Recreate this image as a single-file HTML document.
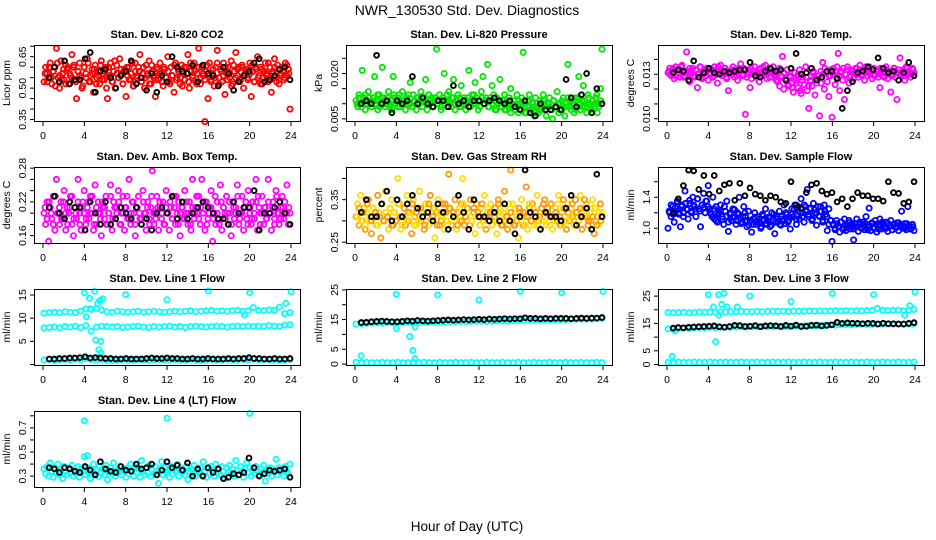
<!DOCTYPE html>
<html><head><meta charset="utf-8"><style>
html,body{margin:0;padding:0;background:#fff;}
svg{display:block;font-family:"Liberation Sans",sans-serif;}
</style></head><body>
<svg id="chart" width="936" height="540" viewBox="0 0 936 540" xmlns="http://www.w3.org/2000/svg">
<rect x="0" y="0" width="936" height="540" fill="#fff"/>
<text x="467" y="15" font-size="14" text-anchor="middle">NWR_130530  Std. Dev. Diagnostics</text>
<text x="467" y="531" font-size="13.5" text-anchor="middle">Hour of Day (UTC)</text>
</svg>
<script>
// ---------- data ----------
const xTicks = [0,4,8,12,16,20,24];

const co2Color = [0.53,0.6,0.57,0.55,0.62,0.52,0.58,0.6,0.69,0.55,0.5,0.63,0.57,0.54,0.61,0.59,0.52,0.56,0.66,0.6,
0.54,0.45,0.58,0.62,0.55,0.51,0.6,0.57,0.64,0.53,0.56,0.59,0.48,0.61,0.55,0.58,0.52,0.63,0.57,0.54,
0.6,0.45,0.56,0.62,0.53,0.58,0.5,0.61,0.55,0.64,0.57,0.52,0.59,0.46,0.56,0.6,0.54,0.62,0.51,0.58,
0.55,0.6,0.66,0.53,0.57,0.5,0.61,0.56,0.63,0.52,0.58,0.55,0.46,0.6,0.54,0.62,0.57,0.51,0.59,0.55,
0.65,0.53,0.6,0.56,0.48,0.62,0.55,0.58,0.52,0.61,0.57,0.54,0.6,0.66,0.5,0.58,0.55,0.62,0.53,0.57,
0.69,0.52,0.6,0.56,0.34,0.58,0.45,0.62,0.54,0.57,0.51,0.6,0.68,0.55,0.59,0.53,0.62,0.47,0.57,0.6,
0.55,0.63,0.52,0.58,0.67,0.56,0.6,0.54,0.61,0.5,0.57,0.59,0.55,0.62,0.46,0.58,0.53,0.6,0.65,0.56,
0.52,0.59,0.55,0.62,0.57,0.53,0.6,0.48,0.58,0.64,0.55,0.61,0.52,0.57,0.6,0.54,0.62,0.56,0.59,0.4];
const co2Color2 = [0.57,0.53,0.6,0.55,0.58,0.51,0.62,0.56,0.54,0.59,0.52,0.6,0.57,0.55,0.61,0.53,0.58,0.56,0.5,0.6,
0.55,0.62,0.53,0.57,0.59,0.52,0.56,0.61,0.54,0.58,0.5,0.6,0.56,0.53,0.63,0.57,0.55,0.59,0.52,0.58,
0.6,0.54,0.57,0.51,0.62,0.56,0.58,0.53,0.6,0.55,0.57,0.52,0.61,0.56,0.54,0.59,0.57,0.53,0.6,0.55,
0.58,0.52,0.56,0.61,0.54,0.59,0.55,0.51,0.6,0.57,0.53,0.62,0.56,0.58,0.52,0.6,0.55,0.57,0.54,0.61,
0.56,0.53,0.59,0.55,0.62,0.52,0.58,0.56,0.6,0.54,0.57,0.51,0.61,0.55,0.59,0.53,0.6,0.56,0.58,0.54,
0.57,0.61,0.53,0.59,0.55,0.6,0.52,0.58,0.56,0.62,0.54,0.57,0.6,0.53,0.59,0.56,0.58,0.55,0.61,0.57];
const co2Black = [0.55,0.6,0.53,0.63,0.52,0.54,0.54,0.64,0.67,0.48,0.58,0.59,0.55,0.5,0.56,0.58,0.63,0.52,0.55,0.49,0.57,0.48,0.56,0.53,0.65,0.6,0.58,0.57,0.61,0.53,0.61,0.57,0.56,0.51,0.6,0.57,0.49,0.53,0.56,0.58,0.62,0.64,0.53,0.54,0.56,0.59,0.6,0.54];

const presColor = [0.011,0.009,0.013,0.01,0.021,0.012,0.008,0.011,0.014,0.01,0.009,0.012,0.019,0.011,0.008,0.013,0.01,0.022,0.012,0.009,
0.011,0.014,0.01,0.008,0.019,0.012,0.011,0.009,0.013,0.01,0.014,0.011,0.008,0.012,0.01,0.017,0.009,0.013,0.011,0.008,
0.012,0.01,0.014,0.009,0.011,0.018,0.008,0.013,0.01,0.012,0.009,0.011,0.028,0.01,0.013,0.008,0.012,0.02,0.011,0.009,
0.014,0.01,0.012,0.018,0.008,0.011,0.013,0.009,0.016,0.01,0.012,0.008,0.011,0.021,0.009,0.013,0.01,0.017,0.012,0.008,
0.011,0.014,0.019,0.01,0.012,0.023,0.009,0.011,0.016,0.013,0.008,0.012,0.01,0.018,0.009,0.011,0.013,0.008,0.01,0.012,
0.015,0.009,0.011,0.008,0.013,0.007,0.01,0.012,0.027,0.009,0.007,0.011,0.013,0.008,0.01,0.006,0.012,0.009,0.007,0.011,
0.008,0.013,0.01,0.006,0.009,0.012,0.008,0.005,0.011,0.009,0.014,0.007,0.01,0.008,0.012,0.006,0.009,0.023,0.011,0.008,
0.01,0.007,0.012,0.009,0.019,0.008,0.011,0.016,0.009,0.007,0.013,0.01,0.008,0.011,0.009,0.012,0.007,0.01,0.015,0.028];
const presColor2 = [0.01,0.012,0.009,0.011,0.013,0.01,0.012,0.009,0.011,0.01,0.013,0.009,0.012,0.011,0.01,0.012,0.009,0.011,0.013,0.01,
0.012,0.009,0.011,0.01,0.012,0.013,0.01,0.009,0.011,0.012,0.01,0.011,0.009,0.012,0.01,0.013,0.011,0.009,0.012,0.01,
0.011,0.009,0.012,0.01,0.013,0.011,0.009,0.012,0.01,0.011,0.012,0.009,0.011,0.01,0.012,0.009,0.011,0.013,0.01,0.011,
0.009,0.012,0.01,0.011,0.009,0.012,0.01,0.011,0.008,0.01,0.009,0.011,0.008,0.01,0.009,0.007,0.01,0.008,0.009,0.011,
0.008,0.01,0.007,0.009,0.011,0.008,0.009,0.007,0.01,0.008,0.009,0.011,0.008,0.01,0.009,0.008,0.011,0.009,0.01,0.008,
0.011,0.009,0.01,0.012,0.009,0.011,0.01,0.008,0.012,0.01,0.009,0.011,0.01,0.012,0.009,0.011,0.01,0.013,0.009,0.011];
const presBlack = [0.01,0.011,0.01,0.026,0.01,0.011,0.007,0.011,0.01,0.011,0.019,0.01,0.012,0.01,0.009,0.011,0.011,0.009,0.016,0.01,0.011,0.009,0.011,0.011,0.01,0.011,0.012,0.011,0.01,0.011,0.009,0.008,0.011,0.007,0.006,0.01,0.008,0.008,0.009,0.008,0.018,0.012,0.009,0.013,0.02,0.007,0.015,0.01];

const tempColor = [0.0131,0.0134,0.0129,0.0132,0.0127,0.0135,0.013,0.0133,0.0128,0.0136,0.0131,0.0129,0.0145,0.0132,0.0125,0.013,0.0134,0.0128,0.0133,0.0121,
0.013,0.0135,0.0127,0.0132,0.0129,0.0134,0.0126,0.0131,0.0133,0.0128,0.0135,0.013,0.0124,0.0132,0.0136,0.0129,0.0131,0.0134,0.0127,0.0119,
0.0132,0.013,0.0135,0.0128,0.0133,0.0126,0.0131,0.0137,0.0129,0.0134,0.0103,0.013,0.0133,0.0121,0.0127,0.0132,0.0135,0.0128,0.0131,0.0125,
0.0134,0.0129,0.0132,0.0136,0.0127,0.0131,0.0133,0.0128,0.0135,0.013,0.0126,0.0132,0.0134,0.0129,0.0142,0.0131,0.0127,0.0133,0.0122,0.0128,
0.0124,0.0118,0.0131,0.0126,0.0121,0.0133,0.0117,0.0128,0.0123,0.0135,0.0119,0.0107,0.0126,0.0122,0.0132,0.0116,0.0127,0.0129,0.0102,0.0124,
0.0138,0.012,0.0131,0.0125,0.0115,0.0129,0.0101,0.0134,0.0123,0.0128,0.0144,0.0119,0.0132,0.0126,0.0113,0.013,0.0135,0.0124,0.0129,0.0133,
0.0127,0.0131,0.0134,0.0128,0.0136,0.013,0.0132,0.0126,0.0133,0.0129,0.0135,0.0131,0.0127,0.0134,0.013,0.0132,0.0128,0.0121,0.0133,0.0129,
0.0131,0.0135,0.0127,0.0132,0.0118,0.013,0.0134,0.0128,0.0113,0.0131,0.0141,0.0129,0.0133,0.0126,0.0135,0.013,0.0132,0.0128,0.0134,0.0131];
const tempColor2 = [0.0132,0.013,0.0134,0.0129,0.0133,0.0131,0.0135,0.0128,0.0132,0.013,0.0134,0.0131,0.0129,0.0133,0.013,0.0135,0.0128,0.0132,0.0131,0.0134,
0.013,0.0133,0.0129,0.0132,0.0135,0.013,0.0131,0.0134,0.0128,0.0132,0.013,0.0133,0.0131,0.0129,0.0134,0.0132,0.013,0.0133,0.0128,0.0131,
0.0134,0.013,0.0132,0.0129,0.0133,0.0131,0.0135,0.013,0.0132,0.0128,0.0133,0.0131,0.0129,0.0125,0.0122,0.0128,0.012,0.0126,0.0123,0.0129,
0.0121,0.0127,0.0124,0.013,0.0119,0.0126,0.0123,0.0128,0.0122,0.0125,0.0131,0.0127,0.0124,0.0129,0.0132,0.013,0.0134,0.0131,0.0129,0.0133,
0.013,0.0132,0.0135,0.0129,0.0131,0.0134,0.013,0.0133,0.0128,0.0132,0.0131,0.0134,0.013,0.0133,0.0129,0.0132,0.0135,0.0131,0.013,0.0133,
0.0129,0.0132,0.013,0.0134,0.0131,0.0128,0.0133,0.013,0.0132,0.0129,0.0134,0.0131,0.0133,0.013,0.0132,0.0129,0.0134,0.0131,0.013,0.0133];
const tempBlack = [0.0131,0.0133,0.0132,0.0126,0.0139,0.0128,0.0131,0.0134,0.0131,0.013,0.0132,0.0131,0.0132,0.0133,0.0133,0.0138,0.0129,0.0128,0.0132,0.0134,0.0132,0.0133,0.0126,0.0134,0.0144,0.013,0.0131,0.0134,0.0126,0.0128,0.0132,0.0132,0.0127,0.0107,0.0119,0.0125,0.0131,0.0132,0.0135,0.0133,0.0141,0.0134,0.0131,0.0132,0.0126,0.0131,0.0138,0.0129];

const ambColor = [0.2,0.18,0.22,0.15,0.21,0.19,0.23,0.17,0.26,0.2,0.18,0.22,0.19,0.24,0.17,0.21,0.2,0.23,0.18,0.16,
0.21,0.19,0.26,0.2,0.17,0.22,0.24,0.18,0.21,0.19,0.23,0.2,0.17,0.25,0.18,0.22,0.2,0.16,0.21,0.19,
0.23,0.18,0.2,0.25,0.17,0.22,0.19,0.21,0.24,0.18,0.2,0.23,0.17,0.21,0.19,0.26,0.18,0.22,0.2,0.16,
0.21,0.23,0.19,0.18,0.24,0.2,0.17,0.22,0.19,0.21,0.275,0.18,0.2,0.23,0.17,0.21,0.19,0.22,0.18,0.24,
0.2,0.17,0.21,0.19,0.23,0.18,0.2,0.22,0.16,0.21,0.19,0.24,0.2,0.18,0.22,0.17,0.26,0.19,0.21,0.2,
0.23,0.18,0.26,0.2,0.17,0.22,0.19,0.21,0.24,0.15,0.2,0.18,0.22,0.19,0.25,0.17,0.21,0.2,0.23,0.18,
0.2,0.16,0.22,0.19,0.21,0.25,0.18,0.2,0.23,0.17,0.21,0.19,0.24,0.2,0.18,0.22,0.19,0.26,0.17,0.21,
0.2,0.23,0.18,0.21,0.19,0.26,0.2,0.17,0.22,0.19,0.24,0.2,0.18,0.21,0.23,0.19,0.2,0.25,0.18,0.2];
const ambColor2 = [0.21,0.19,0.22,0.2,0.18,0.23,0.2,0.21,0.19,0.22,0.2,0.18,0.21,0.23,0.19,0.2,0.22,0.18,0.21,0.2,
0.19,0.22,0.2,0.23,0.18,0.21,0.2,0.19,0.22,0.21,0.18,0.2,0.23,0.19,0.21,0.2,0.22,0.18,0.2,0.21,
0.23,0.19,0.2,0.22,0.18,0.21,0.2,0.19,0.22,0.2,0.21,0.18,0.23,0.2,0.19,0.21,0.22,0.2,0.18,0.21,
0.2,0.22,0.19,0.21,0.23,0.18,0.2,0.21,0.19,0.22,0.2,0.18,0.21,0.2,0.23,0.19,0.21,0.2,0.22,0.18,
0.2,0.21,0.19,0.23,0.2,0.18,0.22,0.21,0.19,0.2,0.22,0.18,0.21,0.2,0.23,0.19,0.2,0.21,0.22,0.18,
0.21,0.19,0.2,0.22,0.23,0.18,0.2,0.21,0.19,0.22,0.2,0.21,0.18,0.23,0.2,0.19,0.21,0.22,0.2,0.21];
const ambBlack = [0.21,0.23,0.2,0.19,0.22,0.21,0.21,0.17,0.22,0.2,0.18,0.22,0.18,0.19,0.21,0.2,0.19,0.21,0.18,0.19,0.17,0.2,0.21,0.2,0.23,0.19,0.22,0.19,0.2,0.21,0.22,0.21,0.2,0.19,0.19,0.18,0.22,0.2,0.21,0.21,0.24,0.17,0.2,0.2,0.21,0.22,0.2,0.18];

const rhColor = [0.31,0.34,0.29,0.36,0.3,0.33,0.28,0.32,0.35,0.3,0.27,0.33,0.31,0.29,0.36,0.32,0.26,0.34,0.3,0.37,
0.31,0.28,0.33,0.35,0.29,0.32,0.3,0.4,0.34,0.28,0.31,0.33,0.29,0.36,0.3,0.32,0.27,0.35,0.31,0.29,
0.33,0.37,0.3,0.32,0.28,0.34,0.31,0.29,0.36,0.3,0.33,0.26,0.32,0.35,0.29,0.31,0.34,0.28,0.32,0.3,
0.41,0.33,0.29,0.31,0.35,0.28,0.32,0.3,0.34,0.4,0.29,0.31,0.33,0.28,0.35,0.3,0.32,0.27,0.34,0.31,
0.29,0.33,0.3,0.36,0.28,0.32,0.31,0.34,0.29,0.3,0.33,0.27,0.35,0.31,0.29,0.32,0.37,0.3,0.28,0.34,
0.42,0.31,0.29,0.33,0.3,0.26,0.32,0.35,0.29,0.31,0.38,0.28,0.33,0.3,0.34,0.29,0.32,0.36,0.3,0.28,
0.33,0.31,0.35,0.29,0.32,0.3,0.34,0.28,0.31,0.33,0.3,0.36,0.29,0.32,0.35,0.31,0.28,0.34,0.3,0.33,
0.31,0.29,0.35,0.32,0.3,0.36,0.28,0.33,0.31,0.34,0.29,0.32,0.3,0.35,0.27,0.33,0.31,0.29,0.34,0.32];
const rhColor2 = [0.31,0.33,0.3,0.32,0.29,0.34,0.31,0.3,0.33,0.32,0.29,0.31,0.34,0.3,0.32,0.31,0.33,0.29,0.32,0.3,
0.34,0.31,0.29,0.33,0.3,0.32,0.31,0.34,0.29,0.32,0.3,0.33,0.31,0.29,0.32,0.34,0.3,0.31,0.33,0.29,
0.32,0.3,0.31,0.34,0.29,0.33,0.3,0.32,0.31,0.29,0.33,0.3,0.34,0.31,0.32,0.29,0.3,0.33,0.31,0.32,
0.29,0.34,0.3,0.31,0.33,0.32,0.29,0.31,0.3,0.34,0.32,0.29,0.33,0.31,0.3,0.32,0.34,0.29,0.31,0.33,
0.3,0.32,0.29,0.31,0.34,0.3,0.33,0.32,0.29,0.31,0.3,0.34,0.32,0.33,0.29,0.31,0.3,0.32,0.34,0.31,
0.29,0.33,0.3,0.32,0.31,0.34,0.29,0.32,0.3,0.33,0.31,0.35,0.32,0.3,0.34,0.31,0.33,0.29,0.32,0.3];
const rhBlack = [0.32,0.35,0.31,0.31,0.34,0.37,0.3,0.35,0.31,0.34,0.36,0.33,0.31,0.32,0.3,0.34,0.32,0.28,0.31,0.36,0.32,0.28,0.35,0.31,0.31,0.3,0.32,0.3,0.34,0.3,0.27,0.31,0.42,0.32,0.31,0.28,0.32,0.31,0.31,0.3,0.33,0.36,0.29,0.31,0.33,0.28,0.41,0.31];

const flowColor = [1.0,1.2,1.15,1.28,1.08,1.22,1.35,1.18,1.02,1.3,1.2,1.48,1.25,1.12,1.32,1.22,1.4,1.28,1.15,1.38,1.25,1.02,1.3,1.45,1.2,1.35,1.55,
1.25,1.18,1.4,1.12,1.28,1.08,1.2,1.3,1.15,1.05,1.22,1.35,0.96,1.18,1.1,1.25,1.14,1.05,1.2,1.4,1.12,1.08,1.28,1.15,1.02,1.22,1.1,
0.95,1.12,1.2,1.05,1.15,1.08,1.0,1.18,1.1,1.25,1.05,1.14,1.02,1.2,1.1,0.93,1.15,1.08,1.22,1.04,1.12,1.3,1.06,1.18,1.1,0.99,1.25,
1.15,1.3,1.05,1.22,1.12,1.38,1.2,1.08,1.28,1.5,1.15,1.25,1.1,1.32,1.2,1.04,1.28,1.15,1.22,1.08,1.3,1.18,0.97,1.25,1.1,0.83,
1.05,0.98,1.1,1.02,0.95,1.08,1.0,1.12,0.97,1.04,1.1,0.99,1.06,0.85,1.02,1.12,0.96,1.05,1.0,1.08,0.98,1.15,1.03,1.26,0.97,1.06,1.0,1.1,0.95,1.04,1.12,0.99,1.05,1.0,1.08,0.96,1.03,1.1,0.98,1.05,1.01,1.07,0.97,1.04,1.22,1.0,1.06,0.98,1.28,1.03,1.0,1.05,0.97];
const flowColor2 = [1.22,1.3,1.18,1.26,1.34,1.2,1.28,1.15,1.32,1.24,1.36,1.2,1.3,1.25,1.38,1.22,1.3,1.27,1.35,1.28,
1.2,1.15,1.25,1.1,1.18,1.22,1.12,1.28,1.16,1.08,1.2,1.14,1.24,1.1,1.18,1.06,1.15,1.2,1.1,1.04,
1.1,1.05,1.14,1.08,1.12,1.02,1.16,1.06,1.1,1.13,1.04,1.18,1.08,1.12,1.05,1.15,1.1,1.2,1.08,1.14,
1.18,1.24,1.12,1.28,1.2,1.15,1.3,1.22,1.18,1.26,1.12,1.24,1.2,1.16,1.28,1.1,1.22,1.15,1.05,1.1,
1.04,1.0,1.06,1.02,1.08,0.98,1.05,1.01,1.07,1.03,0.99,1.06,1.02,1.08,1.0,1.04,1.06,0.98,1.03,1.07,
1.01,1.05,0.99,1.04,1.08,1.02,1.0,1.06,1.03,0.98,1.05,1.01,1.07,1.02,1.04,1.0,1.06,1.03,0.99,1.02];
const flowBlack = [1.2,1.38,1.55,1.75,1.74,1.5,1.68,1.44,1.68,1.48,1.56,1.58,1.36,1.58,1.42,1.52,1.44,1.42,1.36,1.42,1.4,1.34,1.32,1.6,1.3,1.26,1.46,1.56,1.58,1.48,1.44,1.46,1.34,1.38,1.28,1.38,1.46,1.42,1.42,1.38,1.38,1.35,1.6,1.46,1.45,1.32,1.34,1.6];

const line1Top = [11.1,11.2,11.3,11.2,11.4,11.3,11.2,11.5,12.0,11.9,12.1,11.8,11.4,11.3,11.5,11.4,11.3,11.4,11.5,11.3,11.4,11.5,11.4,11.3,11.4,11.5,11.4,11.5,11.6,11.4,11.5,11.6,11.7,11.5,11.6,11.5,11.6,11.7,11.5,11.6,12.3,11.7,11.6,11.8,11.7,12.4,11.0,11.2];
const line1Mid = [7.9,8.0,8.1,7.9,8.2,8.1,8.3,8.0,8.4,7.2,8.1,8.3,8.2,8.1,8.2,8.0,8.1,8.2,8.3,8.1,8.0,8.2,8.1,8.2,8.3,8.1,8.2,8.0,8.2,8.3,8.2,8.1,8.2,8.3,8.2,8.1,8.2,8.3,8.2,8.3,8.2,8.3,8.2,8.4,8.3,8.2,8.5,8.6];
const line1Low = [1.0,1.1,0.9,1.0,1.1,1.0,1.2,1.0,1.3,1.1,1.0,1.1,1.0,0.9,1.0,1.1,1.0,1.0,1.1,1.0,0.9,1.0,1.1,1.0,1.0,1.1,1.0,1.0,1.1,1.0,0.9,1.0,1.1,1.0,1.0,1.1,1.0,1.0,1.1,1.0,1.2,1.0,1.1,1.0,1.0,0.9,1.0,1.1];
const line1Black = [1.2,1.2,1.3,1.3,1.4,1.4,1.5,1.7,1.4,1.5,1.4,1.3,1.3,1.2,1.2,1.3,1.2,1.2,1.2,1.3,1.4,1.3,1.3,1.4,1.3,1.3,1.2,1.2,1.3,1.2,1.2,1.3,1.2,1.2,1.2,1.3,1.2,1.3,1.3,1.5,1.3,1.3,1.2,1.2,1.3,1.2,1.2,1.3];
const line1OutX = [4,4.5,5,4.2,4.6,5.3,5.5,5.8,5.1,5.6,5.4,5.6,8,12,16,20,23.5,24,19.5];
const line1OutY = [15.5,14.3,15.8,10.3,12,13.2,13.8,14.2,5.3,5,3.2,2.5,15.1,14,15.9,15.5,13.2,15.7,10.7];

const line2Top = [13.5,13.6,13.7,13.8,13.9,13.8,14.0,13.9,13.9,14.0,14.1,13.9,14.0,14.1,14.1,14.2,14.2,14.2,14.3,14.3,14.4,14.3,14.4,14.5,14.5,14.4,14.5,14.6,14.6,14.5,14.7,14.7,14.8,14.8,14.8,14.9,14.9,15.0,15.0,14.9,15.0,15.1,15.1,15.1,15.2,15.2,15.3,15.4];
const line2Low = [0.6,0.5,0.6,0.5,0.5,0.6,0.5,0.5,0.6,0.5,0.5,0.6,0.5,0.6,0.5,0.5,0.6,0.5,0.5,0.6,0.5,0.5,0.6,0.5,0.5,0.6,0.5,0.5,0.6,0.5,0.5,0.6,0.5,0.5,0.6,0.5,0.5,0.6,0.5,0.5,0.6,0.5,0.5,0.6,0.5,0.5,0.6,0.5];
const line2Black = [14.0,14.1,14.3,14.4,14.5,14.4,14.3,14.3,14.4,14.6,14.5,14.7,14.6,14.5,14.6,14.7,14.8,14.9,14.8,14.9,15.0,14.9,15.0,15.1,15.0,15.2,15.1,15.2,15.3,15.2,15.3,15.3,15.6,15.4,15.4,15.3,15.4,15.3,15.4,15.4,15.4,15.3,15.4,15.5,15.4,15.5,15.5,15.7];
const line2OutX = [0.6,4,4,5.3,5.6,5.8,8,12,16,20,24,5.8];
const line2OutY = [2.8,23.5,12,9.3,4.6,1.8,23.3,21.6,24.5,24,24.5,12.5];

const line3Top = [19.0,18.9,19.0,19.1,18.9,19.0,19.2,19.1,19.2,19.1,19.3,19.2,19.3,19.2,19.4,19.3,19.3,19.4,19.3,19.4,19.5,19.4,19.5,19.4,19.5,19.4,19.5,19.6,19.5,19.6,19.5,19.6,19.7,19.6,19.7,19.6,19.7,19.6,19.7,19.8,20.5,19.8,19.7,19.8,19.9,19.6,19.8,20.1];
const line3Mid = [13.0,12.9,13.2,13.3,13.2,13.4,13.5,13.4,13.6,13.5,13.6,13.7,13.6,13.7,13.8,13.7,13.8,13.8,13.9,13.8,13.9,14.0,13.9,14.0,14.1,14.0,14.1,14.2,14.1,14.2,14.3,14.5,14.4,14.5,14.6,14.5,14.6,14.7,14.6,14.7,14.8,14.7,14.8,14.7,14.8,14.7,14.8,14.9];
const line3Low = [0.8,0.8,0.9,0.8,0.8,0.9,0.8,0.8,0.9,0.8,0.8,0.9,0.8,0.8,0.9,0.8,0.8,0.9,0.8,0.8,0.9,0.8,0.8,0.9,0.8,0.8,0.9,0.8,0.8,0.9,0.8,0.8,0.9,0.8,0.8,0.9,0.8,0.8,0.9,0.8,0.8,0.9,0.8,0.8,0.9,0.8,0.8,0.9];
const line3Black = [13.3,13.5,13.4,13.6,13.7,13.8,13.9,14.0,14.1,13.8,13.6,13.9,14.3,14.2,13.9,14.0,14.2,13.8,14.1,14.2,14.1,13.9,14.3,14.0,14.4,13.9,14.0,14.3,14.4,14.1,14.3,14.5,15.4,15.0,15.2,15.1,15.0,14.9,15.1,15.0,14.8,15.1,14.9,14.9,14.8,14.8,15.0,15.3];
const line3OutX = [0.5,4,4.5,5,5.5,4.7,5.3,5.8,5,6.8,8,12,16,20,23,23.5,24,0.8];
const line3OutY = [3,25.5,21,25.5,26,8.3,22,21,18,21,25,23,26,25.5,18,21.5,26.5,12.3];

const lt4Color = [0.36,0.32,0.38,0.3,0.41,0.34,0.29,0.37,0.33,0.4,0.31,0.35,0.28,0.38,0.34,0.31,0.37,0.33,0.39,0.3,
0.35,0.32,0.38,0.29,0.36,0.34,0.46,0.31,0.37,0.33,0.28,0.36,0.4,0.32,0.35,0.3,0.38,0.33,0.36,0.31,
0.39,0.27,0.34,0.37,0.32,0.41,0.3,0.35,0.33,0.38,0.31,0.36,0.34,0.29,0.37,0.32,0.4,0.35,0.3,0.38,
0.33,0.36,0.29,0.43,0.34,0.31,0.37,0.33,0.39,0.3,0.35,0.32,0.38,0.34,0.24,0.36,0.42,0.31,0.37,0.33,
0.35,0.29,0.38,0.32,0.36,0.34,0.4,0.3,0.37,0.33,0.35,0.31,0.38,0.27,0.34,0.36,0.32,0.39,0.3,0.35,
0.33,0.37,0.31,0.42,0.34,0.29,0.36,0.32,0.38,0.35,0.3,0.4,0.33,0.36,0.31,0.38,0.34,0.28,0.37,0.33,
0.39,0.32,0.36,0.3,0.43,0.35,0.31,0.38,0.34,0.29,0.36,0.41,0.33,0.37,0.3,0.35,0.32,0.38,0.34,0.31,
0.36,0.33,0.39,0.26,0.35,0.32,0.37,0.3,0.36,0.34,0.44,0.31,0.37,0.33,0.35,0.3,0.38,0.34,0.32,0.4];
const lt4Black = [0.37,0.36,0.33,0.37,0.36,0.34,0.33,0.38,0.35,0.31,0.42,0.36,0.34,0.33,0.38,0.35,0.34,0.4,0.36,0.37,0.4,0.31,0.35,0.42,0.37,0.39,0.35,0.41,0.3,0.36,0.3,0.37,0.33,0.36,0.28,0.29,0.32,0.31,0.33,0.45,0.37,0.3,0.32,0.35,0.34,0.35,0.36,0.29];
const lt4OutX = [4,4.3,12,20];
const lt4OutY = [0.76,0.47,0.78,0.82];

// ---------- layout ----------
const COLS = [34,346,658], ROWS = [45,167,289,411], PW = 266, PH = 76;
const CYAN = '#00ffff';
const panels = [
 {name:'co2', title:'Stan. Dev. Li-820 CO2', ylab:'Licor ppm', col:0,row:0, ymin:0.343,ymax:0.706, ticks:[0.35,0.4,0.45,0.5,0.55,0.6,0.65,0.7], labels:[0.35,0.5,0.65], dec:2,
  series:[{v:co2Color,c:'#ff0000'},{v:co2Color2,c:'#ff0000',off:1},{v:co2Black,c:'#000',b:1}]},
 {name:'pressure', title:'Stan. Dev. Li-820 Pressure', ylab:'kPa', col:1,row:0, ymin:0.0043,ymax:0.0294, ticks:[0.005,0.01,0.015,0.02,0.025], labels:[0.005,0.02], dec:3,
  series:[{v:presColor,c:'#00e600'},{v:presColor2,c:'#00e600',off:1},{v:presBlack,c:'#000',b:1}]},
 {name:'li820-temp', title:'Stan. Dev. Li-820 Temp.', ylab:'degrees C', col:2,row:0, ymin:0.00985,ymax:0.01497, ticks:[0.01,0.011,0.012,0.013,0.014], labels:[0.01,0.013], dec:3,
  series:[{v:tempColor,c:'#ff00ff'},{v:tempColor2,c:'#ff00ff',off:1},{v:tempBlack,c:'#000',b:1}]},
 {name:'amb-box-temp', title:'Stan. Dev. Amb. Box Temp.', ylab:'degrees C', col:0,row:1, ymin:0.147,ymax:0.282, ticks:[0.16,0.18,0.2,0.22,0.24,0.26,0.28], labels:[0.16,0.22,0.28], dec:2,
  series:[{v:ambColor,c:'#ff00ff'},{v:ambColor2,c:'#ff00ff',off:1},{v:ambBlack,c:'#000',b:1}]},
 {name:'gas-stream-rh', title:'Stan. Dev. Gas Stream RH', ylab:'percent', col:1,row:1, ymin:0.248,ymax:0.427, ticks:[0.25,0.3,0.35,0.4], labels:[0.25,0.35], dec:2,
  series:[{v:rhColor,c:'#ff9900',alt:'#ffdd00'},{v:rhColor2,c:'#ffdd00',alt:'#ff9900',off:1},{v:rhBlack,c:'#000',b:1}]},
 {name:'sample-flow', title:'Stan. Dev. Sample Flow', ylab:'ml/min', col:2,row:1, ymin:0.81,ymax:1.79, ticks:[1.0,1.2,1.4,1.6], labels:[1.0,1.4], dec:1,
  series:[{v:flowColor,c:'#0000ff'},{v:flowColor2,c:'#0000ff',off:1},{v:flowBlack,c:'#000',b:1}]},
 {name:'line1-flow', title:'Stan. Dev. Line 1 Flow', ylab:'ml/min', col:0,row:2, ymin:-0.1,ymax:16.3, ticks:[0,5,10,15], labels:[5,10,15], dec:0,
  series:[{v:line1Top,c:CYAN},{v:line1Mid,c:CYAN},{v:line1Low,c:CYAN},{x:line1OutX,v:line1OutY,c:CYAN},{v:line1Black,c:'#000',b:1}]},
 {name:'line2-flow', title:'Stan. Dev. Line 2 Flow', ylab:'ml/min', col:1,row:2, ymin:-0.3,ymax:25.3, ticks:[0,5,10,15,20,25], labels:[0,5,15,25], dec:0,
  series:[{v:line2Top,c:CYAN},{v:line2Low,c:CYAN},{x:line2OutX,v:line2OutY,c:CYAN},{v:line2Black,c:'#000',b:1}]},
 {name:'line3-flow', title:'Stan. Dev. Line 3 Flow', ylab:'ml/min', col:2,row:2, ymin:-0.2,ymax:27.6, ticks:[0,5,10,15,20,25], labels:[0,5,15,25], dec:0,
  series:[{v:line3Top,c:CYAN},{v:line3Mid,c:CYAN},{v:line3Low,c:CYAN},{x:line3OutX,v:line3OutY,c:CYAN},{v:line3Black,c:'#000',b:1}]},
 {name:'line4-flow', title:'Stan. Dev. Line 4 (LT) Flow', ylab:'ml/min', col:0,row:3, ymin:0.21,ymax:0.84, ticks:[0.3,0.4,0.5,0.6,0.7,0.8], labels:[0.3,0.5,0.7], dec:1,
  series:[{v:lt4Color,c:CYAN},{x:lt4OutX,v:lt4OutY,c:CYAN},{v:lt4Black,c:'#000',b:1}]}
];

const NS = 'http://www.w3.org/2000/svg';
const svg = document.getElementById('chart');
function mk(tag, attrs, parent){
  const e = document.createElementNS(NS, tag);
  for (const k in attrs) e.setAttribute(k, attrs[k]);
  parent.appendChild(e);
  return e;
}

panels.forEach(p => {
  const L = COLS[p.col], T = ROWS[p.row], R = L + PW, B = T + PH;
  const x0 = L + 9, x1 = L + 257;
  const xs = h => x0 + (x1 - x0) * h / 24;
  const ys = v => B - (v - p.ymin) / (p.ymax - p.ymin) * PH;

  const g = mk('g', {}, svg);
  
  

  const t = mk('text', {x: (L + R) / 2, y: T - 7, 'font-size': 11, 'font-weight': 'bold', 'text-anchor': 'middle'}, g);
  t.textContent = p.title;
  
  

  const yl = mk('text', {x: 0, y: 0, 'font-size': 10.5, 'text-anchor': 'middle', transform: `translate(${L - 24},${(T + B) / 2}) rotate(-90)`}, g);
  yl.textContent = p.ylab;
  
  

  const pts = mk('g', {fill: 'none'}, g);
  
  
  p.series.forEach(s => {
    const n = s.v.length;
    s.v.forEach((val, i) => {
      let h;
      if (s.x) h = s.x[i];
      else if (s.b) h = 0.6 + i * 23.3 / (n - 1);
      else if (s.off) h = 0.2 + i * 23.6 / (n - 1);
      else h = 0.1 + i * 23.8 / (n - 1);
      const col = s.alt && i % 2 ? s.alt : s.c;
      const c = mk('circle', {cx: xs(h).toFixed(1), cy: ys(val).toFixed(1), r: s.b ? 2.4 : 2.6, stroke: col, 'stroke-width': s.b ? 1.9 : 1.8}, pts);
      
      
    });
  });

  const box = mk('rect', {x: L + 0.5, y: T + 0.5, width: PW, height: PH, fill: 'none', stroke: '#000', 'stroke-width': 1}, g);
  
  

  const xa = mk('g', {}, g);
  
  
  xTicks.forEach(tv => {
    const x = xs(tv);
    mk('line', {x1: x, x2: x, y1: B + 0.5, y2: B + 5, stroke: '#000'}, xa);
    const tl = mk('text', {x: x, y: B + 18, 'font-size': 10.5, 'text-anchor': 'middle'}, xa);
    tl.textContent = tv;
    
    
  });

  const ya = mk('g', {}, g);
  
  
  p.ticks.forEach(tv => {
    const y = ys(tv);
    mk('line', {x1: L + 0.5, x2: L - 4, y1: y, y2: y, stroke: '#000'}, ya);
  });
  p.labels.forEach(tv => {
    const y = ys(tv);
    const tl = mk('text', {x: 0, y: 0, 'font-size': 10.5, 'text-anchor': 'middle', transform: `translate(${L - 8},${y}) rotate(-90)`}, ya);
    tl.textContent = tv.toFixed(p.dec);
    
    
  });
});
</script>
</body></html>
